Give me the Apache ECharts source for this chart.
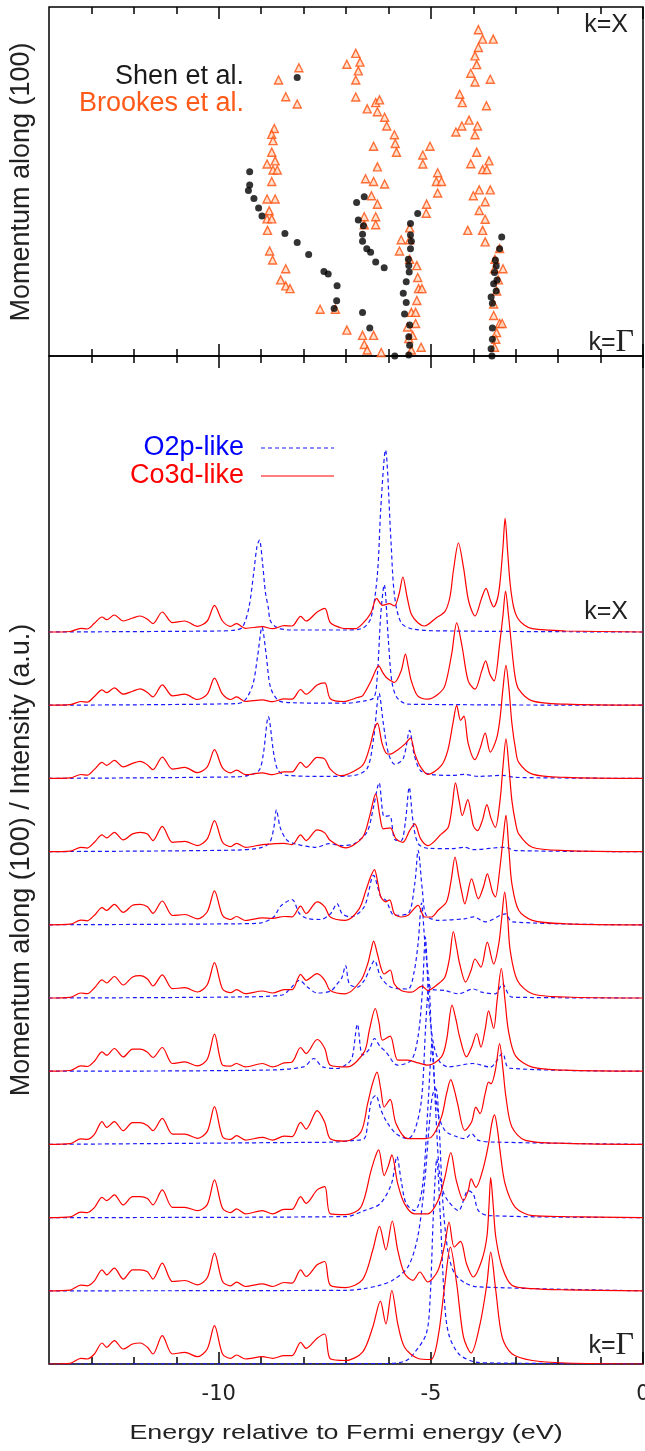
<!DOCTYPE html>
<html><head><meta charset="utf-8">
<script src="https://cdn.jsdelivr.net/npm/echarts@6/dist/echarts.min.js"></script>
<style>html,body{margin:0;padding:0;background:#fff}#c{width:645px;height:1451px}</style>
</head><body><div id="c"></div>
<script>
// ---------- data ----------
const majorTicks = [-10, -5, 0];
const minorTicks = [-13, -12, -11, -9, -8, -7, -6, -4, -3, -2, -1];

// top panel: [energy (eV), momentum (% of Gamma->X)]
const shenPoints = [
[-8.15,79.8],[-9.27,52.8],[-9.27,49.0],[-9.30,47.4],[-9.17,45.1],[-9.06,42.4],[-8.98,40.1],[-8.44,35.1],[-8.15,32.5],[-7.88,29.1],[-7.52,24.2],[-7.42,23.5],[-7.21,20.1],[-7.22,15.8],[-7.28,13.6],[-6.61,12.5],[-6.44,8.0],[-5.85,0],
[-6.57,45.6],[-6.75,44.0],[-6.71,39.0],[-6.59,37.3],[-6.61,34.9],[-6.61,32.9],[-6.51,30.7],[-6.42,29.7],[-6.30,26.9],[-6.10,25.3],
[-5.31,40.8],[-5.48,38.0],[-5.48,34.7],[-5.46,32.9],[-5.48,30.7],[-5.53,27.7],[-5.52,25.9],[-5.51,24.1],[-5.58,21.3],[-5.65,18.0],[-5.58,15.3],[-5.62,12.0],[-5.50,8.9],[-5.52,5.5],[-5.50,3.1],[-5.52,0.3],
[-3.33,34.1],[-3.38,30.7],[-3.48,27.5],[-3.46,25.8],[-3.50,23.9],[-3.44,21.8],[-3.52,20.7],[-3.46,18.6],[-3.58,16.9],[-3.55,15.1],[-3.55,8.0],[-3.55,4.8],[-3.58,2.1],[-3.56,0]
];
const brookesPoints = [
[-8.11,82.6],[-8.59,79.1],[-8.42,74.3],[-8.15,72.2],[-8.69,65.2],[-8.75,63.5],[-8.72,61.7],[-8.75,58.4],[-8.67,55.9],[-8.86,55.0],[-8.72,53.3],[-8.62,53.3],[-8.75,50.0],[-8.86,45.0],[-8.67,45.0],[-8.81,41.6],[-8.86,39.3],[-8.75,39.3],[-8.85,36.0],[-8.80,30.1],[-8.73,27.5],[-8.42,25.0],[-8.54,21.8],[-8.42,20.1],[-8.32,19.3],[-7.61,13.4],[-7.25,13.4],[-6.98,7.4],[-6.61,5.9],[-6.35,5.9],[-6.57,3.3],[-6.50,1.7],[-6.17,1.0],
[-6.77,86.7],[-6.98,83.6],[-6.67,84.2],[-6.71,81.7],[-6.77,79.1],[-6.77,74.2],[-6.50,70.8],[-6.30,72.6],[-6.21,73.4],[-6.26,70.0],[-6.09,68.4],[-6.04,65.9],[-5.86,63.4],[-5.84,60.9],[-5.81,58.4],[-6.35,60.1],[-6.26,54.2],[-6.54,50.8],[-6.35,50.0],[-6.09,49.3],[-6.40,45.9],[-6.26,43.5],[-6.57,39.9],[-6.30,39.9],[-6.57,37.6],[-6.30,37.6],
[-5.02,60.1],[-5.19,57.6],[-5.19,55.0],[-4.84,52.5],[-4.87,50.0],[-4.75,50.0],[-4.84,46.7],[-5.10,43.5],[-5.11,40.9],
[-5.50,36.7],[-5.70,33.3],[-5.50,33.3],[-5.74,30.1],[-5.50,27.7],[-5.33,25.9],[-5.31,22.5],[-5.29,19.3],[-5.21,19.3],[-5.33,15.9],[-5.46,12.5],[-5.36,12.5],[-5.36,9.3],[-5.55,8.3],[-5.43,5.9],[-5.52,5.0],[-5.23,2.5],[-5.46,1.7],
[-3.88,93.5],[-3.78,90.8],[-3.53,90.8],[-3.88,88.4],[-3.96,86.0],[-3.92,83.5],[-4.06,81.0],[-3.96,78.5],[-3.60,79.3],[-4.32,75.0],[-4.26,72.6],[-3.69,71.7],[-4.10,67.6],[-4.27,65.9],[-3.90,65.9],[-4.41,64.2],[-3.96,63.4],[-3.92,58.4],[-4.06,55.1],[-3.63,55.9],[-3.78,53.4],[-3.68,53.4],[-3.86,47.6],[-4.00,45.9],[-3.60,47.6],[-3.72,44.2],[-3.86,41.7],[-3.72,39.2],[-4.13,36.0],[-3.78,36.0],[-3.72,32.7],
[-3.38,30.8],[-3.49,27.7],[-3.50,25.0],[-3.30,25.0],[-3.41,21.8],[-3.45,18.6],[-3.52,14.9],[-3.52,11.6],[-3.38,9.3],[-3.32,9.3],[-3.45,6.7],[-3.47,4.8],[-3.50,2.5]
];

// bottom panel: spectra, k index 0 = Gamma ... 10 = X ; intensities in a.u.
const eLow = [-14,-13.5,-13.25,-13.1,-12.93,-12.75,-12.64,-12.46,-12.25,-12.03,-11.85,-11.68,-11.55,-11.33,-11.09,-10.8,-10.5,-10.27,-10.1,-9.91,-9.72,-9.58,-9.37,-8.97,-8.73,-8.46,-8.27,-8.07,-7.94,-7.68,-7.5];
const co3dLow = [
[0,0.7,5.7,5,10,21,16.7,23.3,15,20,21,16.7,10,28.3,10,11.7,7.3,15,38.3,10,5.7,9,5,7.3,5.7,8.3,8.3,21.7,15.7,25.7,30],
[0,0.7,5.7,5,10,21,16,22.7,11.7,21,21,19,11.7,27.7,9.3,10.3,6,13,37.7,9.3,5,8.7,4.3,7,4.3,8.3,7.7,21,14.3,26,29.3],
[0,0.7,5.5,5,10,20.3,17,22.7,12.7,21,21,19,12.7,27.7,10.3,10.3,7,13,37.7,9.3,5,8.7,3.7,7,3.7,8.3,8.3,21,14.3,27.7,31],
[0,0.7,5.5,5,10,22.7,17,22.7,13.7,21.7,21.7,19,13.7,26,10.3,10.3,6,13,37.7,7.7,5,8.7,4.3,7,4.3,8.3,7.7,22,15.3,33.7,22],
[0,0.7,5.3,4.7,10,19.3,16,22.7,14.3,22,22,19,13.7,23.7,7.7,9.3,5.3,12,37,6,5,7.7,4.3,7.7,4.3,8.3,9.3,23.7,17.7,31.7,22.7],
[0,0.7,5,4.3,10,18.2,15,21.5,13,21,22.3,19,12,23.2,9.3,10.3,6,13.3,35.3,9,5.3,8.3,4.3,7,5,8.3,8.3,23.7,17.7,24.3,17.7],
[0,0.6,4.7,4,9.5,17.2,14.5,20.5,12.5,19.5,20.5,18,11.5,23.8,9.3,10.3,6,13,34,9.3,5.3,8.3,4.3,7,6.5,8.3,8,18.7,11.3,23,18],
[0,0.5,4.3,3.5,9.3,16.7,13.7,19.3,11.7,17.7,19.3,17.7,11,25.3,9.3,10.3,6,12.7,31,9.3,5,8.3,4.3,7,7.7,8.3,7,16.7,11,21.7,18.7],
[0,0.5,3.9,3.2,9,16,13,18,11.5,15,17,13.5,8.7,21.3,9.3,11,5.7,11.5,28.7,10.5,5.5,8.3,3.7,5.5,3.7,6.5,6.5,16,11,21,19.3],
[0,0.5,3.7,3,8.7,15.3,12.5,17.3,11,14,16.3,12.7,8.3,20.3,9.3,11,5.7,11,27,11,5.7,8.3,3.7,5.3,3.5,6.3,6,15.7,11,20.3,22.3],
[0,0.5,3.7,3,8.7,15,12.3,17,11,14,16,12.7,8.3,20,9.3,11,5.7,11,26.7,11,5.7,8.3,3.7,5.3,3.3,6.3,6,15.7,11,20,23.7]
];
const co3dHigh = [
[[-7.37,5.2],[-7.01,3.5],[-6.61,11.8],[-6.37,36.8],[-6.19,62.8],[-6.06,40],[-5.92,73.5],[-5.78,40.2],[-5.62,16.8],[-5.3,5.5],[-5.0,4.5],[-4.83,26.8],[-4.67,80],[-4.54,116.8],[-4.39,80],[-4.23,26.8],[-4.05,11],[-3.84,40.2],[-3.68,80],[-3.59,111.8],[-3.47,73.5],[-3.32,26.8],[-3.09,10.2],[-2.61,3.5],[-1.82,1],[0,0]],
[[-7.37,5.5],[-7.01,3.2],[-6.61,11.2],[-6.37,40.5],[-6.21,64.5],[-6.06,41],[-5.91,69.8],[-5.78,40.5],[-5.62,17.2],[-5.42,10.5],[-5.26,18.8],[-5.07,8.8],[-4.83,20.5],[-4.67,47],[-4.57,68.8],[-4.45,43.8],[-4.3,49.5],[-4.16,27],[-4.0,13.8],[-3.8,30.5],[-3.68,53.8],[-3.63,85],[-3.59,113.2],[-3.53,85],[-3.47,53.8],[-3.32,23.8],[-3.09,5.5],[-2.61,2.2],[-1.82,1],[0,0]],
[[-7.37,3.7],[-7.01,3],[-6.65,10.3],[-6.41,47],[-6.3,62],[-6.23,67.7],[-6.1,42],[-6.0,52],[-5.92,62.7],[-5.78,33.7],[-5.62,13.7],[-5.38,3.7],[-5.07,3.7],[-4.83,17],[-4.67,40.3],[-4.53,65],[-4.4,37],[-4.23,17],[-4.12,27],[-4.05,38.7],[-3.94,30.3],[-3.76,50.3],[-3.64,73.7],[-3.56,95],[-3.5,102.7],[-3.42,85],[-3.37,67],[-3.25,33.7],[-3.01,10.3],[-2.61,2],[-1.82,1],[0,0]],
[[-7.37,5.7],[-7.01,3.3],[-6.65,12.3],[-6.49,40.7],[-6.38,60],[-6.27,72.3],[-6.18,55],[-6.1,37.3],[-5.96,45],[-5.82,20.7],[-5.54,5.7],[-5.23,5.7],[-4.99,7.3],[-4.75,27.3],[-4.63,50.7],[-4.53,64.7],[-4.45,55],[-4.37,40.7],[-4.2,14],[-4.04,22.3],[-3.94,37.3],[-3.84,30.7],[-3.72,50.7],[-3.64,62.3],[-3.58,60.7],[-3.48,74],[-3.38,100.7],[-3.3,75],[-3.23,47.3],[-3.09,17.3],[-2.77,4],[-1.82,1],[0,0]],
[[-7.37,6],[-6.97,4.3],[-6.57,19.3],[-6.45,41],[-6.31,62.7],[-6.22,48],[-6.14,31],[-5.96,35],[-5.78,11],[-5.54,11],[-5.3,8.3],[-5.07,6],[-4.75,14.3],[-4.63,31],[-4.5,66],[-4.41,52],[-4.32,34],[-4.16,14.3],[-4.04,24],[-3.92,37.7],[-3.82,24],[-3.72,42],[-3.64,60.3],[-3.52,42.7],[-3.44,70],[-3.34,102.7],[-3.25,70],[-3.17,40],[-3.0,15],[-2.61,4],[-1.82,1],[0,0]],
[[-7.37,7.5],[-7.01,4.2],[-6.65,17.5],[-6.49,34],[-6.41,48],[-6.35,56.8],[-6.26,44],[-6.18,30.8],[-6.1,24],[-5.96,28],[-5.86,14],[-5.7,7.5],[-5.46,5.8],[-5.21,11.8],[-5.07,7.5],[-4.83,14],[-4.67,20.8],[-4.56,40],[-4.47,66.5],[-4.39,50],[-4.32,34],[-4.18,15.8],[-4.05,28],[-3.96,39],[-3.82,30.8],[-3.67,55.8],[-3.52,34],[-3.4,54],[-3.33,80],[-3.26,105.8],[-3.19,80],[-3.13,47.5],[-2.96,17.5],[-2.61,4.2],[-1.82,1],[0,0]],
[[-7.37,7.8],[-7.01,4.5],[-6.69,16],[-6.53,34.5],[-6.42,48],[-6.33,55.2],[-6.25,42],[-6.18,28],[-6.06,23],[-5.97,25],[-5.86,11],[-5.7,7.8],[-5.54,9.5],[-5.3,19.5],[-5.15,7.8],[-4.99,7.8],[-4.83,14.5],[-4.63,23],[-4.52,45],[-4.43,67.8],[-4.35,50],[-4.28,34.5],[-4.2,21],[-4.04,46],[-3.88,26],[-3.76,38],[-3.67,51],[-3.55,33],[-3.48,27.8],[-3.37,57.8],[-3.3,85],[-3.23,109.5],[-3.16,75],[-3.09,41],[-2.93,14.5],[-2.61,4.5],[-1.82,1],[0,0]],
[[-7.37,11],[-7.01,3.7],[-6.61,14.3],[-6.45,34.3],[-6.3,57.7],[-6.2,35],[-6.12,22.7],[-5.96,23.7],[-5.82,12.7],[-5.66,9.3],[-5.5,21],[-5.38,27.7],[-5.24,12.7],[-5.07,6],[-4.75,17.7],[-4.59,24.3],[-4.5,45],[-4.42,68.7],[-4.33,50],[-4.26,36],[-4.13,52],[-4.0,26],[-3.9,21],[-3.78,32],[-3.68,47],[-3.58,33],[-3.48,24.3],[-3.37,51],[-3.3,85],[-3.23,112.7],[-3.16,85],[-3.09,51],[-3.0,28],[-2.93,17.7],[-2.61,4.3],[-1.82,1],[0,0]],
[[-7.37,9.3],[-7.13,2.7],[-6.97,4],[-6.61,13],[-6.45,30],[-6.33,50],[-6.26,55.3],[-6.15,35],[-6.05,25],[-5.96,24.3],[-5.8,28],[-5.62,34],[-5.48,40.3],[-5.38,25],[-5.25,12],[-5.07,4],[-4.75,13],[-4.6,28],[-4.48,55],[-4.39,73],[-4.3,58],[-4.22,62.3],[-4.12,35],[-3.96,18.7],[-3.84,30],[-3.72,45.3],[-3.6,26.3],[-3.45,40],[-3.37,60],[-3.3,90],[-3.23,113],[-3.16,90],[-3.09,55],[-3.0,28],[-2.93,16],[-2.61,4.3],[-1.82,1],[0,0]],
[[-7.37,6.5],[-7.05,3.7],[-6.73,7.7],[-6.61,9.3],[-6.41,24.3],[-6.3,35],[-6.23,39.3],[-6.14,33],[-6.05,27.7],[-5.96,25],[-5.86,22.7],[-5.7,34.3],[-5.6,51],[-5.53,38],[-5.46,24.3],[-5.31,9.3],[-5.07,6],[-4.83,11],[-4.67,19.3],[-4.51,51],[-4.39,82.3],[-4.26,57.7],[-4.12,24.3],[-3.96,16],[-3.8,34.3],[-3.71,44.3],[-3.61,31],[-3.51,24.3],[-3.37,64.3],[-3.3,90],[-3.24,114],[-3.17,90],[-3.11,64.3],[-3.02,30],[-2.93,16],[-2.61,4.3],[-1.82,1],[0,0]],
[[-7.37,9.3],[-7.13,4.3],[-6.95,3.3],[-6.78,3.3],[-6.61,8.3],[-6.41,19.3],[-6.28,33.7],[-6.14,26.7],[-5.98,28.3],[-5.86,26],[-5.75,38],[-5.66,55],[-5.56,35],[-5.46,17.7],[-5.3,9],[-5.15,6],[-4.87,14.3],[-4.67,20.3],[-4.55,35],[-4.47,61],[-4.35,89],[-4.23,64.3],[-4.11,31],[-3.96,16],[-3.8,34.3],[-3.7,43.7],[-3.6,32],[-3.52,25],[-3.42,35],[-3.36,54],[-3.3,85],[-3.25,113.7],[-3.19,80],[-3.13,47.7],[-3.05,25],[-2.96,14.3],[-2.8,7],[-2.61,3.3],[-2.2,1.8],[-1.82,1],[0,0]]
];
const o2p = [
[[-14,0],[-6,0.5],[-5.6,3],[-5.41,10],[-5.11,30],[-5.02,63.5],[-4.94,150],[-4.86,205],[-4.78,150],[-4.68,63.5],[-4.58,30],[-4.34,10],[-3.95,2],[-3.5,1],[0,0]],
[[-14,0],[-7.0,0.5],[-6.57,2.2],[-6.21,5.5],[-5.9,10.5],[-5.54,23.8],[-5.31,53.8],[-5.15,107],[-5.04,165],[-4.96,196],[-4.88,202],[-4.8,160],[-4.72,90],[-4.6,40],[-4.45,18],[-4.2,8],[-3.9,4],[0,0]],
[[-14,0],[-7.0,1],[-6.57,7],[-6.2,13.7],[-5.93,33.7],[-5.8,61],[-5.7,37],[-5.58,13.7],[-5.38,7],[-5.2,30],[-5.07,110],[-4.97,175],[-4.89,110],[-4.8,45],[-4.72,27],[-4.6,17],[-4.35,7],[-4.12,27],[-4.0,23.7],[-3.88,7],[-3.64,2],[0,0]],
[[-14,0],[-8.0,2],[-7.3,2.3],[-6.8,4],[-6.57,5.7],[-6.49,20],[-6.4,44],[-6.3,49],[-6.18,35],[-6.06,24],[-5.82,10.7],[-5.54,5.7],[-5.38,14],[-5.22,45],[-5.12,120],[-5.05,160],[-4.98,105],[-4.85,35],[-4.67,14],[-4.37,7.3],[-4.2,5.7],[-4.04,10.7],[-3.88,4],[-3.5,2.3],[0,0]],
[[-14,0],[-9.0,1],[-8.0,4.3],[-7.76,12.7],[-7.55,4.3],[-7.2,2.7],[-6.95,8],[-6.85,14.3],[-6.73,47],[-6.61,16],[-6.45,22],[-6.33,32.7],[-6.2,25],[-6.06,19.3],[-5.78,6],[-5.46,11],[-5.3,35],[-5.2,80],[-5.13,134],[-5.05,70],[-4.95,30],[-4.8,10],[-4.59,4.3],[-4.0,7.7],[-3.6,4],[-3.31,17.7],[-3.15,3],[0,0]],
[[-14,0],[-9.6,1],[-8.5,3],[-8.3,10],[-8.1,17.7],[-7.91,11],[-7.68,5],[-7.36,7],[-7.21,14],[-7.1,20],[-7.01,32.5],[-6.92,14],[-6.73,10.8],[-6.57,17.5],[-6.45,28],[-6.33,37.5],[-6.18,20.8],[-5.94,10.8],[-5.54,9],[-5.4,25],[-5.3,55],[-5.22,95],[-5.14,55],[-5.05,20],[-4.99,9],[-4.67,7.5],[-4.35,4.2],[-4.0,9],[-3.8,5.8],[-3.48,4.2],[-3.31,14],[-3.09,0.8],[0,0]],
[[-14,0],[-9.6,1],[-9.0,2],[-8.7,8],[-8.54,18.7],[-8.27,25.2],[-8.1,11.3],[-7.91,6.3],[-7.6,5.3],[-7.36,11.3],[-7.21,21.2],[-7.09,11],[-6.89,7.8],[-6.57,18],[-6.35,49.5],[-6.18,28],[-6.06,24.5],[-5.86,9.5],[-5.54,11],[-5.38,41],[-5.3,74.5],[-5.2,34.5],[-5.11,9.5],[-4.83,4.5],[-4.2,6],[-4.0,8],[-3.72,3],[-3.24,11],[-3.09,3],[0,0]],
[[-14,0],[-9.6,1.5],[-9.0,4],[-8.8,9],[-8.7,24],[-8.64,41.7],[-8.55,24],[-8.4,11.7],[-8.2,7.7],[-7.7,4.3],[-7.4,8],[-7.1,6],[-6.8,8],[-6.5,20],[-6.35,45],[-6.22,68.7],[-6.1,35],[-5.97,36],[-5.85,12],[-5.7,11],[-5.6,30],[-5.51,64.3],[-5.42,30],[-5.3,8],[-5.07,3.3],[-4.5,3],[-4.2,4.3],[-4.0,2],[-3.25,4.3],[-3.0,1],[0,0]],
[[-14,0],[-9.6,1.5],[-9.3,3],[-9.05,8],[-8.95,24],[-8.83,61.7],[-8.7,24],[-8.6,8],[-8.4,3],[-7.4,2],[-6.8,3],[-6.5,10],[-6.35,40],[-6.22,85],[-6.12,55],[-6.0,25],[-5.85,14],[-5.65,20],[-5.5,48],[-5.4,25],[-5.25,8],[-5.0,4],[-4.5,3],[-4.2,4],[-3.9,2],[-3.3,3],[-3.0,1],[0,0]],
[[-14,0],[-9.6,1.5],[-9.4,4],[-9.2,20],[-9.08,50],[-8.98,78],[-8.88,50],[-8.78,18],[-8.6,5],[-8.3,2.5],[-7.0,2],[-6.57,4.3],[-6.34,7.7],[-6.26,31],[-6.18,91],[-6.1,120.5],[-6.0,64],[-5.92,24],[-5.8,7.7],[-5.54,1],[0,0]],
[[-14,0],[-10,1],[-9.6,2],[-9.44,4.7],[-9.29,24],[-9.17,61],[-9.1,85],[-9.04,92],[-8.97,70],[-8.9,40],[-8.83,24],[-8.78,11],[-8.62,4.3],[-8.3,2],[-7.0,2],[-6.6,4],[-6.41,14.3],[-6.26,57.7],[-6.18,124],[-6.07,182],[-5.94,91],[-5.86,37.7],[-5.7,9.3],[-5.4,2.7],[-4.5,1],[0,0]]
];
const kStep = 73.2;      // vertical offset between successive k spectra (a.u.)
const intensityMax = 1008;

// ---------- chart ----------
const chart = echarts.init(document.getElementById('c'), null, {renderer: 'canvas'});
const L = 49, R = 2, T1 = 7, H1 = 349, H2 = 1008;

function tickAxis(grid, pos, major, labels) {
  return {
    type: 'value', gridIndex: grid, position: pos, min: -14, max: 0,
    axisLine: {show: false}, splitLine: {show: false},
    axisTick: {show: true, inside: true, length: major ? 12 : 7, customValues: major ? majorTicks : minorTicks,
               lineStyle: {color: '#000', width: 1.5}},
    axisLabel: labels ? {show: true, customValues: majorTicks, fontFamily: 'DejaVu Sans', fontSize: 21,
               color: '#222', margin: 20, alignMaxLabel: 'center', alignMinLabel: 'center', hideOverlap: false} : {show: false}
  };
}

const xAxes = [
  tickAxis(0, 'bottom', true, false), tickAxis(0, 'bottom', false, false),
  tickAxis(0, 'top', true, false), tickAxis(0, 'top', false, false),
  tickAxis(1, 'bottom', true, true), tickAxis(1, 'bottom', false, false),
  tickAxis(1, 'top', true, false), tickAxis(1, 'top', false, false)
];

const series = [
  {type: 'scatter', xAxisIndex: 0, yAxisIndex: 0, data: brookesPoints, symbol: 'triangle', symbolSize: 8,
   itemStyle: {color: '#ffd9c2', borderColor: '#ff4d0a', borderWidth: 1.4}, z: 3},
  {type: 'scatter', xAxisIndex: 0, yAxisIndex: 0, data: shenPoints, symbol: 'circle', symbolSize: 7,
   itemStyle: {color: '#000'}, z: 4}
];
for (let k = 0; k <= 10; k++) {
  const off = k * kStep;
  series.push({type: 'line', xAxisIndex: 4, yAxisIndex: 1, showSymbol: false, smooth: 0.3, z: 2,
    data: o2p[k].map(p => [p[0], p[1] + off]),
    lineStyle: {color: '#1a1aff', width: 1.2, type: [4, 3]}});
}
for (let k = 0; k <= 10; k++) {
  const off = k * kStep;
  const d = eLow.map((e, j) => [e, co3dLow[k][j] + off]).concat(co3dHigh[k].map(p => [p[0], p[1] + off]));
  series.push({type: 'line', xAxisIndex: 4, yAxisIndex: 1, showSymbol: false, smooth: 0.3, z: 3,
    data: d, lineStyle: {color: '#ff0000', width: 1.2}});
}

const sans = 'Liberation Sans, Arial, sans-serif';
const graphic = [
  {type: 'text', x: 244, y: 77, style: {text: 'Shen et al.', font: '27px ' + sans, fill: '#1a1a1a', textAlign: 'right', textVerticalAlign: 'middle'}},
  {type: 'text', x: 244, y: 104, style: {text: 'Brookes et al.', font: '27px ' + sans, fill: '#ff5a1a', textAlign: 'right', textVerticalAlign: 'middle'}},
  {type: 'text', x: 628, y: 25, style: {text: 'k=X', font: '25px ' + sans, fill: '#222', textAlign: 'right', textVerticalAlign: 'middle'}},
  {type: 'text', x: 634, y: 343, style: {text: '{a|k=}{b|Γ}', textAlign: 'right', textVerticalAlign: 'middle',
     rich: {a: {font: '25px ' + sans, fill: '#222'}, b: {font: '32px Liberation Serif, serif', fill: '#222'}}}},
  {type: 'text', x: 628, y: 612, style: {text: 'k=X', font: '25px ' + sans, fill: '#222', textAlign: 'right', textVerticalAlign: 'middle'}},
  {type: 'text', x: 634, y: 1346, style: {text: '{a|k=}{b|Γ}', textAlign: 'right', textVerticalAlign: 'middle',
     rich: {a: {font: '25px ' + sans, fill: '#222'}, b: {font: '32px Liberation Serif, serif', fill: '#222'}}}},
  {type: 'text', x: 244, y: 448, style: {text: 'O2p-like', font: '27px ' + sans, fill: '#0000ff', textAlign: 'right', textVerticalAlign: 'middle'}},
  {type: 'text', x: 244, y: 476, style: {text: 'Co3d-like', font: '27px ' + sans, fill: '#ff0000', textAlign: 'right', textVerticalAlign: 'middle'}},
  {type: 'line', shape: {x1: 261, y1: 448, x2: 334, y2: 448}, style: {stroke: '#1a1aff', lineWidth: 1.2, lineDash: [4, 3]}},
  {type: 'line', shape: {x1: 261, y1: 476, x2: 334, y2: 476}, style: {stroke: '#ff0000', lineWidth: 1.2}},
  {type: 'text', x: 346, y: 1433, scaleX: 1.28, style: {text: 'Energy relative to Fermi energy (eV)', font: '21px ' + sans, fill: '#222', textAlign: 'center', textVerticalAlign: 'middle'}},
  {type: 'text', x: 22, y: 182, rotation: Math.PI / 2, style: {text: 'Momentum along (100)', font: '27px ' + sans, fill: '#222', textAlign: 'center', textVerticalAlign: 'middle'}},
  {type: 'text', x: 22, y: 860, rotation: Math.PI / 2, style: {text: 'Momentum along (100) / Intensity (a.u.)', font: '27px ' + sans, fill: '#222', textAlign: 'center', textVerticalAlign: 'middle'}}
];

chart.setOption({
  animation: false,
  backgroundColor: '#fff',
  grid: [
    {left: L, right: R, top: T1, height: H1, show: true, borderColor: '#000', borderWidth: 1.5, backgroundColor: 'transparent', outerBoundsMode: 'none'},
    {left: L, right: R, top: T1 + H1, height: H2, show: true, borderColor: '#000', borderWidth: 1.5, backgroundColor: 'transparent', outerBoundsMode: 'none'}
  ],
  xAxis: xAxes,
  yAxis: [
    {type: 'value', gridIndex: 0, min: 0, max: 100, show: false},
    {type: 'value', gridIndex: 1, min: 0, max: intensityMax, show: false}
  ],
  series: series,
  graphic: graphic
});
</script></body></html>
